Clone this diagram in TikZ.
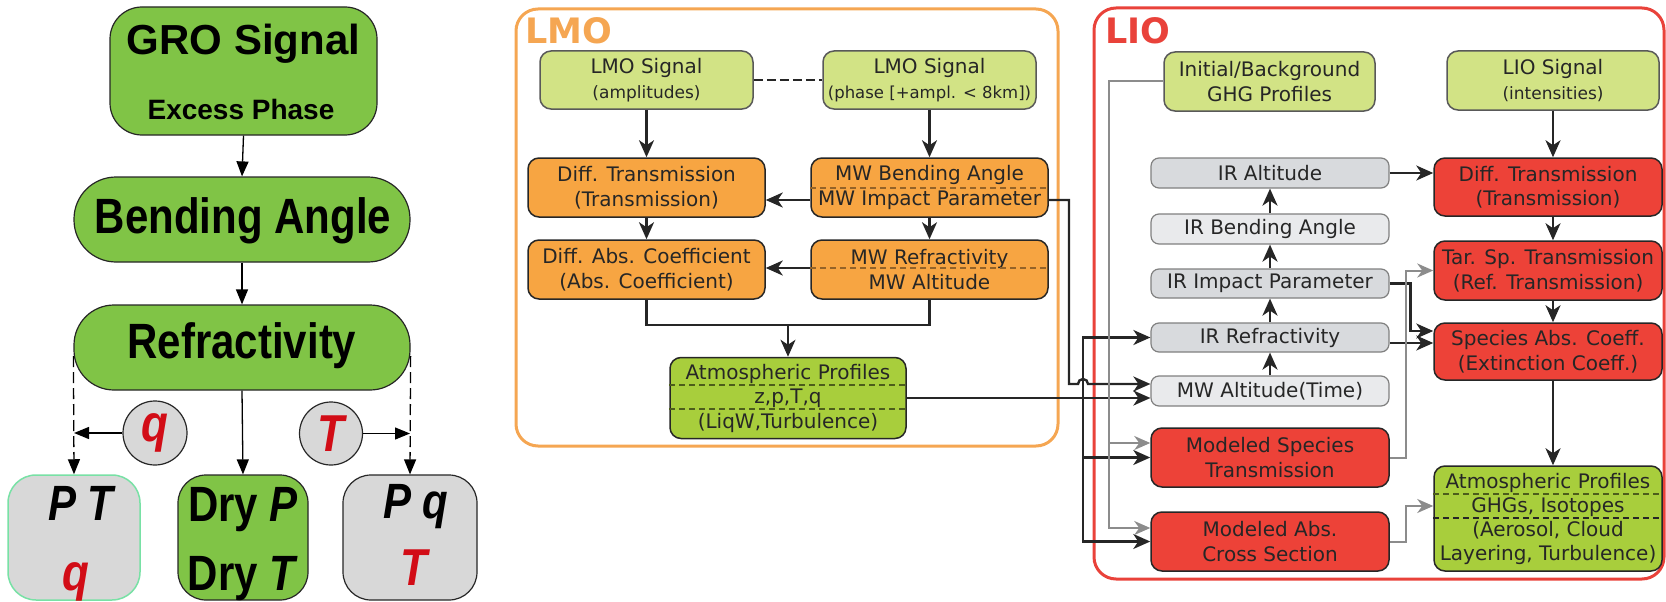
\documentclass[tikz,border=0pt]{standalone}
\usepackage{fontspec}
\usepackage{graphicx}
\setmainfont{DejaVu Sans}
\newfontfamily\arialf{Liberation Sans}
\usetikzlibrary{arrows.meta}
\definecolor{lmoorange}{RGB}{247,165,66}
\definecolor{lmoframe}{RGB}{245,166,82}
\definecolor{liored}{RGB}{237,66,56}
\definecolor{lioframe}{RGB}{233,66,58}
\definecolor{lgreen}{RGB}{210,227,133}
\definecolor{mgreen}{RGB}{168,206,60}
\definecolor{grogreen}{RGB}{128,196,70}
\definecolor{irgray}{RGB}{216,218,221}
\definecolor{irlight}{RGB}{233,234,236}
\definecolor{pgray}{RGB}{216,216,216}
\definecolor{ink}{RGB}{38,38,38}
\definecolor{qred}{RGB}{210,12,22}
\definecolor{pale}{RGB}{120,225,165}
\definecolor{conngray}{RGB}{140,140,140}
\newcommand\stretchy[1]{\scalebox{1}[1.18]{#1}}
\begin{document}
\begin{tikzpicture}[x=1pt,y=-1pt]
\tikzset{
 arr/.style={draw=ink, line width=2.4pt, -{Stealth[length=17pt,width=15pt,inset=5pt]}},
 garr/.style={draw=conngray, line width=2pt, -{Stealth[length=16pt,width=14pt,inset=5pt]}},
 ln/.style={draw=ink, line width=2.4pt},
 larr/.style={draw=black, line width=1.3pt, -{Triangle[length=15pt,width=12pt]}},
 fbox/.style={rounded corners=11pt, draw=ink, line width=1.5pt, inner sep=0pt, align=center, text=ink, font=\fontsize{20}{24.5}\selectfont},
 sigbox/.style={fbox, fill=lgreen, draw=black!65, minimum width=213pt, minimum height=58pt},
 obox/.style={fbox, fill=lmoorange, minimum width=237pt, minimum height=59pt},
 rbox/.style={fbox, fill=liored, minimum width=228pt, minimum height=58pt},
 irbox/.style={fbox, rounded corners=8pt, fill=irgray, draw=black!50, line width=1.2pt, minimum width=238pt, minimum height=29pt},
 irlbox/.style={irbox, fill=irlight},
 mbox/.style={fbox, fill=liored, minimum width=238pt, minimum height=59pt},
 gbox/.style={fbox, fill=mgreen},
 panelframe/.style={rounded corners=22pt, line width=3pt},
 ttl/.style={font=\fontsize{35}{35}\selectfont\bfseries, anchor=west, inner sep=0pt},
 lbox/.style={draw=black!85, line width=1.2pt, fill=grogreen, inner sep=0pt},
 ltxt/.style={font=\arialf\bfseries, inner sep=0pt, anchor=base},
}
\useasboundingbox (0,0) rectangle (1666,602);

% ---------- frames
\draw[lmoframe, panelframe] (516,9) rectangle (1058,446);
\draw[lioframe, panelframe] (1094,8) rectangle (1664,579);
\node[ttl, text=lmoframe] (lmotitle) at (525,31) {LMO};
\node[ttl, text=lioframe] (liotitle) at (1105,31) {LIO};

% ---------- left panel
\node[lbox, rounded corners=32pt, minimum width=267pt, minimum height=128pt] (gro) at (243.5,71) {};
\node[ltxt] (grot) at (243.5,55) {\fontsize{42}{42}\selectfont GRO Signal};
\node[ltxt] (grot2) at (241,119) {\fontsize{28}{28}\selectfont Excess Phase};
\node[lbox, rounded corners=42pt, minimum width=336pt, minimum height=85pt] (bend) at (242,219.5) {};
\node[ltxt] (bendt) at (243,233) {\stretchy{\fontsize{42}{42}\selectfont Bending Angle}};
\node[lbox, rounded corners=40pt, minimum width=336pt, minimum height=85pt] (refr) at (242,347.5) {};
\node[ltxt] (refrt) at (242,358) {\stretchy{\fontsize{42}{42}\selectfont Refractivity}};
\node[circle, draw=black!85, line width=1.2pt, fill=pgray, minimum size=64pt, inner sep=0pt, text=qred, font=\arialf\bfseries] (qc) at (155,433) {\stretchy{\fontsize{44}{44}\selectfont\itshape q}};
\node[circle, draw=black!85, line width=1.2pt, fill=pgray, minimum size=63pt, inner sep=0pt, text=qred, font=\arialf\bfseries] (tc) at (331,433.5) {\stretchy{\fontsize{44}{44}\selectfont\itshape T}};
\node[lbox, draw=pale, line width=1.5pt, fill=pgray, rounded corners=28pt, minimum width=132pt, minimum height=125pt] (ptq) at (74,537.5) {};
\node[lbox, rounded corners=28pt, minimum width=130pt, minimum height=125pt] (dry) at (243,537.5) {};
\node[lbox, fill=pgray, rounded corners=28pt, minimum width=134pt, minimum height=125pt] (pqt) at (410,537.5) {};
\node[ltxt] (ptqa) at (81,520) {\stretchy{\fontsize{42}{42}\selectfont\itshape P T}};
\node[ltxt, text=qred] (ptqb) at (76,590) {\stretchy{\fontsize{44}{44}\selectfont\itshape q}};
\node[ltxt] (drya) at (243,521) {\stretchy{\fontsize{42}{42}\selectfont Dry \textit{P}}};
\node[ltxt] (dryb) at (243,590) {\stretchy{\fontsize{42}{42}\selectfont Dry \textit{T}}};
\node[ltxt] (pqta) at (416,518) {\stretchy{\fontsize{42}{42}\selectfont\itshape P q}};
\node[ltxt, text=qred] (pqtb) at (414,585) {\stretchy{\fontsize{44}{44}\selectfont\itshape T}};

\draw[larr] (gro.south) -- (bend.north);
\draw[larr] (bend.south) -- (refr.north);
\draw[larr] (refr.south) -- (dry.north);
\draw[larr, dash pattern=on 11pt off 5pt] (refr.west |- 0,356) -- (ptq.north);
\draw[larr, dash pattern=on 11pt off 5pt] (refr.east |- 0,356) -- (pqt.north);
\draw[larr] (qc.west) -- (ptq.north |- qc.west);
\draw[larr] (tc.east) -- (pqt.north |- tc.east);

% ---------- LMO nodes
\node[sigbox] (sigA) at (646.5,80) {LMO Signal\\{\fontsize{17}{17}\selectfont (amplitudes)}};
\node[sigbox] (sigP) at (929.5,80) {LMO Signal\\{\fontsize{16.5}{16.5}\selectfont (phase [+ampl. < 8km])}};
\node[obox] (dtL) at (646.5,187.5) {Diff. Transmission\\(Transmission)};
\node[obox] (mwb) at (929.5,187.5) {MW Bending Angle\\MW Impact Parameter};
\node[obox] (dac) at (646.5,269.5) {Diff. Abs. Coefficient\\(Abs. Coefficient)};
\node[obox] (mwr) at (929.5,269.5) {MW Refractivity\\MW Altitude};
\node[gbox, minimum width=236pt, minimum height=81pt] (atmL) at (788,398) {Atmospheric Profiles\\z,p,T,q\\(LiqW,Turbulence)};
\draw[dash pattern=on 6pt off 4pt, line width=1.1pt, draw=lmoorange!60!black] (mwb.west |- 0,188) -- (mwb.east |- 0,188);
\draw[dash pattern=on 6pt off 4pt, line width=1.1pt, draw=lmoorange!60!black] (mwr.west |- 0,268) -- (mwr.east |- 0,268);
\draw[dash pattern=on 6pt off 4pt, line width=1.1pt, draw=mgreen!45!black] (atmL.west |- 0,385) -- (atmL.east |- 0,385);
\draw[dash pattern=on 6pt off 4pt, line width=1.1pt, draw=mgreen!45!black] (atmL.west |- 0,409) -- (atmL.east |- 0,409);

% ---------- LIO nodes
\node[sigbox, minimum width=211pt, minimum height=59pt] (init) at (1269.5,81.5) {Initial/Background\\GHG Profiles};
\node[sigbox, minimum width=212pt, minimum height=59pt] (lsig) at (1553,80.5) {LIO Signal\\{\fontsize{17}{17}\selectfont (intensities)}};
\node[irbox, minimum height=30pt] (iralt) at (1270,173) {IR Altitude};
\node[irlbox, minimum height=30pt] (irba) at (1270,229) {IR Bending Angle};
\node[irbox] (irip) at (1270,283.5) {IR Impact Parameter};
\node[irbox] (irref) at (1270,337.5) {IR Refractivity};
\node[irlbox, minimum height=30pt] (mwalt) at (1270,391) {MW Altitude(Time)};
\node[mbox] (mst) at (1270,457.5) {Modeled Species\\Transmission};
\node[mbox] (mac) at (1270,541.5) {Modeled Abs.\\Cross Section};
\node[rbox] (dtR) at (1548,187) {Diff. Transmission\\(Transmission)};
\node[rbox, minimum height=59pt] (tsp) at (1548,270.5) {Tar. Sp. Transmission\\(Ref. Transmission)};
\node[rbox, minimum height=57pt] (sac) at (1548,351.5) {Species Abs. Coeff.\\(Extinction Coeff.)};
\node[gbox, minimum width=228pt, minimum height=105pt, font=\fontsize{20}{24}\selectfont] (atmR) at (1548,518.5) {Atmospheric Profiles\\GHGs, Isotopes\\(Aerosol, Cloud\\Layering, Turbulence)};
\draw[dash pattern=on 6pt off 4pt, line width=1.1pt, draw=mgreen!45!black] (atmR.west |- 0,494) -- (atmR.east |- 0,494);
\draw[dash pattern=on 6pt off 4pt, line width=1.1pt, draw=ink] (atmR.west |- 0,518) -- (atmR.east |- 0,518);

% ---------- LMO connectors
\draw[ln, line width=2pt, dash pattern=on 9pt off 4pt] (sigA.east) -- (sigP.west);
\draw[arr] (sigA.south) -- (dtL.north);
\draw[arr] (sigP.south) -- (mwb.north);
\draw[arr] (mwb.west |- 0,200) -- (dtL.east |- 0,200);
\draw[arr] (dtL.south) -- (dac.north);
\draw[arr] (mwb.south) -- (mwr.north);
\draw[arr] (mwr.west |- 0,268) -- (dac.east |- 0,268);
\coordinate (lmojoin) at (788,325);
\draw[ln] (dac.south) |- (lmojoin) -| (mwr.south);
\draw[arr] (lmojoin) -- (atmL.north);

% ---------- cross connectors
\coordinate (bj) at (1083,398);
\draw[arr] (atmL.east) -- (atmL.east -| mwalt.west);
\draw[arr] (bj) |- (irref.west);
\draw[arr] (bj) |- (mst.west);
\draw[arr] (bj) |- (mac.west);
\draw[arr] (mwb.east |- 0,200) -- (1069,200) -- (1069,384) -- (1078,384) arc[start angle=180,end angle=0,radius=5pt] -- (mwalt.west |- 0,384);

% ---------- LIO connectors
\draw[arr] (lsig.south) -- (lsig.south |- dtR.north);
\draw[arr] (lsig.south |- dtR.south) -- (lsig.south |- tsp.north);
\draw[arr] (lsig.south |- tsp.south) -- (lsig.south |- sac.north);
\draw[arr] (lsig.south |- sac.south) -- (lsig.south |- atmR.north);
\draw[arr] (iralt.east) -- (iralt.east -| dtR.west);
\draw[arr] (irip.north) -- (irba.south);
\draw[arr] (irba.north) -- (iralt.south);
\draw[arr] (irref.north) -- (irip.south);
\draw[arr] (mwalt.north) -- (irref.south);
\draw[arr] (irip.east) -- ++(21,0) |- (sac.west |- 0,331);
\draw[arr] (irref.east |- 0,343) -- (sac.west |- 0,343);
\draw[garr] (mst.east) -- ++(16,0) |- (tsp.west);
\draw[garr] (mac.east) -- ++(16,0) |- (atmR.west |- 0,506);
\coordinate (gv) at (1109.5,443);
\draw[garr] (init.west) -- ++(-54.5,0) |- (mac.west |- 0,528);
\draw[garr] (gv) -- (mst.west |- gv);
\end{tikzpicture}
\end{document}
